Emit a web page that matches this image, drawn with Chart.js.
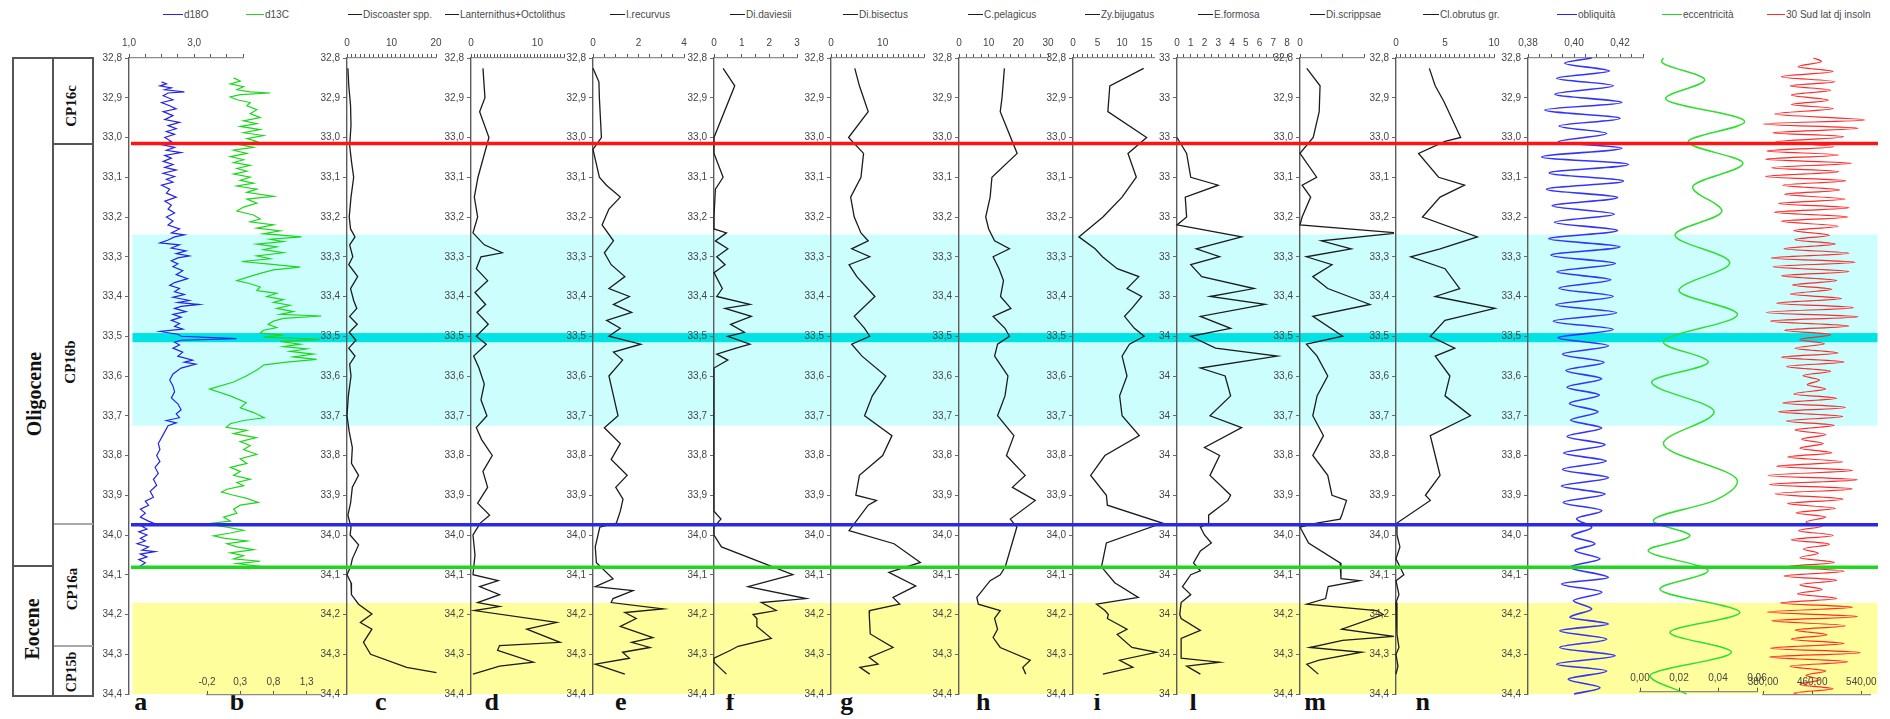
<!DOCTYPE html>
<html lang="it">
<head>
<meta charset="utf-8">
<title>Nannofossili, isotopi e cicli orbitali 32,8–34,4 Ma</title>
<script src="https://cdn.jsdelivr.net/npm/chart.js@4.4.1/dist/chart.umd.min.js"></script>
<style>
  html, body { margin: 0; padding: 0; background: #fff; }
  #page { position: relative; width: 1890px; height: 719px; overflow: hidden; background: #fff; }
  #page canvas { position: absolute; top: 0; }
  .leg { position: absolute; top: 9px; height: 14px; line-height: 14px; font: 10px "Liberation Sans", Arial, sans-serif; color: #4a4a4a; white-space: nowrap; }
  .leg .sw { display: inline-block; vertical-align: middle; height: 0; border-top: 1.5px solid #333; margin-right: 1px; position: relative; top: -1px; }
  .rule { position: absolute; }
  .box { position: absolute; box-sizing: border-box; border: 2px solid #555; }
  .rot { position: absolute; transform: translate(-50%, -50%) rotate(-90deg); font-family: "Liberation Serif", "Times New Roman", serif; font-weight: bold; color: #111; white-space: nowrap; line-height: 1; }
  .letter { position: absolute; top: 689px; transform: translateX(-50%); font: bold 26px/1 "Liberation Serif", "Times New Roman", serif; color: #111; }
</style>
</head>
<body>
<div id="page">
  <!-- biostratigraphic column -->
  <div class="box" style="left:11.5px;top:57px;width:82.5px;height:640px;"></div>
  <div class="rule" style="left:52.3px;top:58px;width:2px;height:638px;background:#555;"></div>
  <div class="rule" style="left:12px;top:565px;width:41px;height:2px;background:#555;"></div>
  <div class="rule" style="left:54px;top:143px;width:39px;height:2px;background:#555;"></div>
  <div class="rule" style="left:54px;top:523.3px;width:39px;height:2px;background:#a8a8a8;"></div>
  <div class="rule" style="left:54px;top:644.7px;width:39px;height:2px;background:#a8a8a8;"></div>
  <div class="rot" style="left:34px;top:394px;font-size:20px;">Oligocene</div>
  <div class="rot" style="left:32px;top:629px;font-size:20px;">Eocene</div>
  <div class="rot" style="left:71px;top:106px;font-size:15px;">CP16c</div>
  <div class="rot" style="left:70px;top:362px;font-size:15px;">CP16b</div>
  <div class="rot" style="left:72px;top:589px;font-size:15px;">CP16a</div>
  <div class="rot" style="left:72px;top:672px;font-size:14px;">CP15b</div>
</div>
<script>
// ---------------------------------------------------------------------------
// Age axis (Ma) shared by every panel
// ---------------------------------------------------------------------------
const DEPTH_MIN = 32.8, DEPTH_MAX = 34.4;
const DEPTH_TICKS = [32.8, 32.9, 33.0, 33.1, 33.2, 33.3, 33.4, 33.5, 33.6, 33.7, 33.8, 33.9, 34.0, 34.1, 34.2, 34.3, 34.4];

// Shaded intervals and boundary lines (Ma)
const BAND_FROM = [33.244, 33.492, 34.171];
const BAND_TO   = [33.725, 33.515, 34.400];
const BOUNDARY_AGE = [33.015, 33.974, 34.081];

// ---------------------------------------------------------------------------
// a — d18O
// ---------------------------------------------------------------------------
const D18O_AGE = [32.860,32.865,32.870,32.875,32.880,32.885,32.888,32.895,32.905,32.912,32.920,32.928,32.935,32.945,32.955,32.962,32.970,32.978,32.985,32.992,33.000,33.010,33.018,33.025,33.032,33.038,33.045,33.052,33.060,33.068,33.075,33.082,33.090,33.098,33.105,33.112,33.120,33.130,33.140,33.150,33.160,33.170,33.180,33.190,33.200,33.210,33.220,33.230,33.240,33.245,33.250,33.258,33.265,33.270,33.278,33.285,33.292,33.298,33.303,33.310,33.318,33.325,33.335,33.345,33.355,33.365,33.372,33.380,33.388,33.395,33.402,33.410,33.415,33.420,33.425,33.430,33.438,33.445,33.452,33.460,33.468,33.475,33.482,33.488,33.495,33.500,33.506,33.510,33.515,33.522,33.530,33.540,33.550,33.560,33.565,33.570,33.580,33.595,33.610,33.625,33.640,33.655,33.670,33.685,33.695,33.705,33.712,33.718,33.725,33.740,33.755,33.770,33.785,33.800,33.815,33.830,33.845,33.860,33.875,33.890,33.905,33.915,33.925,33.935,33.945,33.955,33.965,33.972,33.978,33.985,33.992,34.000,34.008,34.015,34.022,34.030,34.038,34.042,34.048,34.055,34.062,34.070,34.078,34.085];
const D18O_VAL = [2.00,2.15,1.95,2.30,2.10,2.70,2.20,2.05,2.35,2.00,2.25,2.45,2.05,2.35,2.10,2.55,2.20,2.45,2.15,2.40,2.10,2.30,2.00,2.40,2.15,2.60,2.10,2.30,2.05,2.35,2.10,2.45,2.05,2.40,2.15,2.35,2.00,2.25,2.15,2.45,2.10,2.30,2.20,2.40,2.15,2.35,2.20,2.55,2.30,2.70,2.40,2.20,1.95,2.55,2.30,2.75,2.45,2.85,2.50,2.30,2.50,2.35,2.65,2.45,2.80,2.40,2.25,2.55,2.40,2.70,2.35,2.85,2.50,3.15,2.60,2.40,2.75,2.35,2.60,2.30,2.55,2.40,2.65,1.95,2.50,2.60,4.30,2.60,2.40,2.55,2.35,2.65,2.50,2.95,2.70,3.05,2.60,2.35,2.25,2.35,2.40,2.30,2.50,2.60,2.45,2.55,2.15,2.45,2.20,2.10,2.00,1.90,1.95,1.85,1.95,1.80,1.90,1.75,1.85,1.65,1.75,1.50,1.60,1.35,1.50,1.35,1.60,1.80,1.40,1.55,1.30,1.55,1.35,1.50,1.25,1.60,1.40,1.80,1.35,1.55,1.30,1.50,1.35,1.45];

// b — d13C
const D13C_AGE = [32.850,32.858,32.865,32.872,32.880,32.885,32.888,32.892,32.898,32.905,32.912,32.920,32.930,32.940,32.950,32.958,32.965,32.972,32.980,32.988,32.995,33.003,33.010,33.018,33.025,33.032,33.040,33.048,33.056,33.063,33.070,33.078,33.085,33.092,33.100,33.108,33.115,33.122,33.130,33.138,33.148,33.155,33.165,33.175,33.185,33.195,33.205,33.212,33.220,33.228,33.235,33.242,33.250,33.256,33.262,33.268,33.275,33.282,33.290,33.298,33.305,33.312,33.318,33.326,33.333,33.342,33.352,33.360,33.368,33.376,33.385,33.392,33.400,33.408,33.415,33.422,33.430,33.438,33.445,33.449,33.455,33.462,33.470,33.478,33.485,33.492,33.497,33.502,33.508,33.513,33.520,33.526,33.532,33.538,33.545,33.552,33.558,33.565,33.572,33.585,33.600,33.615,33.633,33.650,33.667,33.680,33.692,33.705,33.712,33.720,33.729,33.737,33.745,33.755,33.765,33.775,33.785,33.797,33.808,33.820,33.830,33.840,33.850,33.860,33.868,33.876,33.885,33.892,33.900,33.908,33.918,33.925,33.935,33.945,33.955,33.965,33.972,33.980,33.988,33.995,34.002,34.008,34.015,34.022,34.030,34.037,34.045,34.052,34.060,34.066,34.072,34.078,34.083,34.085];
const D13C_VAL = [0.20,0.30,0.15,0.35,0.25,0.45,0.75,0.30,0.15,0.25,0.45,0.40,0.55,0.45,0.60,0.35,0.55,0.30,0.60,0.35,0.65,0.40,0.55,0.30,0.50,0.20,0.40,0.15,0.35,0.20,0.45,0.25,0.40,0.20,0.45,0.30,0.50,0.25,0.55,0.40,0.80,0.40,0.55,0.35,0.25,0.50,0.60,0.45,0.80,0.55,0.90,0.65,1.22,0.75,0.95,0.55,0.85,0.65,0.95,0.55,0.75,0.32,0.70,1.20,0.80,0.60,0.40,0.25,0.45,0.60,0.55,0.85,0.70,0.95,0.80,1.05,0.85,1.10,0.90,1.52,0.95,0.80,0.72,0.85,0.65,0.60,0.95,0.65,1.50,0.90,1.20,0.95,1.30,1.05,1.40,1.10,1.45,1.00,0.66,0.55,0.39,0.20,-0.16,0.15,0.39,0.30,0.50,0.66,0.35,0.15,0.09,0.40,0.20,0.54,0.30,0.45,0.35,0.55,0.30,0.40,0.15,0.30,0.20,0.45,0.25,0.35,0.10,0.02,0.20,0.40,0.57,0.30,0.20,0.25,0.05,0.15,-0.21,0.10,0.35,0.15,-0.10,0.05,0.40,0.10,0.25,0.50,0.15,0.35,0.20,0.60,0.25,0.55,0.35,0.45];

// c — Discoaster spp.
const DISCO_AGE = [32.826,32.870,32.920,32.970,33.020,33.060,33.100,33.150,33.200,33.230,33.250,33.270,33.300,33.320,33.350,33.380,33.410,33.430,33.450,33.470,33.490,33.510,33.530,33.550,33.570,33.600,33.650,33.700,33.740,33.780,33.820,33.850,33.880,33.920,33.950,33.980,34.000,34.025,34.060,34.080,34.100,34.120,34.150,34.174,34.199,34.220,34.237,34.270,34.300,34.333,34.346];
const DISCO_VAL = [0.2,0.4,0.8,0.9,0.6,1.0,1.5,0.9,0.5,0.8,1.8,0.6,1.3,0.4,2.4,0.8,1.5,2.2,0.6,2.3,0.5,2.0,0.4,1.8,0.6,0.9,0.3,0.0,0.5,1.2,1.0,2.6,1.2,0.8,0.2,0.9,0.7,2.6,1.2,0.8,0.0,0.9,1.0,2.6,5.6,3.0,5.6,3.7,5.3,13.4,20.1];

// d — Lanternithus + Octolithus
const LANT_AGE = [32.826,32.900,32.935,33.000,33.100,33.150,33.200,33.240,33.270,33.290,33.300,33.330,33.360,33.390,33.420,33.440,33.470,33.500,33.520,33.550,33.580,33.620,33.660,33.700,33.730,33.760,33.800,33.840,33.880,33.920,33.950,33.970,34.000,34.050,34.100,34.115,34.130,34.150,34.170,34.180,34.190,34.220,34.237,34.270,34.278,34.290,34.320,34.330,34.350];
const LANT_VAL = [1.8,2.1,1.3,2.7,1.05,0.5,1.0,0.3,2.0,4.7,1.5,0.8,2.5,0.6,2.2,0.9,2.6,0.8,2.3,0.4,1.2,2.0,1.5,2.4,0.8,1.6,3.2,1.8,2.5,1.0,2.8,1.4,0.3,0.6,0.3,4.1,1.3,4.3,1.0,4.3,0.5,12.9,8.4,13.4,4.3,4.0,9.4,4.3,0.3];

// e — I. recurvus
const RECU_AGE = [32.826,32.860,32.900,33.000,33.030,33.100,33.120,33.150,33.180,33.220,33.260,33.290,33.320,33.350,33.380,33.400,33.420,33.440,33.460,33.480,33.500,33.520,33.540,33.560,33.600,33.650,33.700,33.730,33.770,33.810,33.850,33.880,33.910,33.940,33.970,33.980,34.030,34.070,34.110,34.130,34.140,34.160,34.170,34.186,34.195,34.210,34.230,34.258,34.270,34.283,34.295,34.310,34.325,34.350];
const RECU_VAL = [0.00,0.26,0.28,0.37,0.00,0.28,0.59,1.20,0.70,0.40,0.90,0.50,0.80,1.40,0.70,1.60,0.90,1.70,0.60,1.20,0.70,2.10,0.90,1.30,0.70,0.90,1.10,0.50,1.20,0.80,1.50,1.00,1.32,1.20,1.03,0.30,0.10,0.15,0.88,0.10,1.76,0.88,0.80,3.08,1.40,1.90,1.20,2.63,1.70,2.50,1.30,1.60,0.10,1.40];

// f — Di. daviesii
const DAVI_AGE = [32.826,32.870,33.000,33.040,33.100,33.130,33.200,33.230,33.240,33.260,33.280,33.300,33.320,33.340,33.380,33.400,33.420,33.430,33.450,33.470,33.490,33.500,33.520,33.530,33.545,33.560,33.580,33.940,33.960,33.980,34.000,34.030,34.100,34.130,34.160,34.170,34.190,34.200,34.210,34.230,34.260,34.280,34.290,34.310,34.320,34.350];
const DAVI_VAL = [0.33,0.75,0.00,0.00,0.33,0.05,0.00,0.00,0.45,0.05,0.50,0.10,0.40,0.00,0.30,0.10,1.30,0.40,1.35,0.60,1.10,0.50,1.30,0.80,0.10,0.50,0.00,0.00,0.25,0.00,0.00,0.27,2.85,1.23,3.33,1.71,2.25,1.41,1.55,1.55,2.07,0.87,0.60,0.00,0.00,0.45];

// g — Di. bisectus
const BISE_AGE = [32.826,32.870,32.935,33.000,33.040,33.100,33.150,33.200,33.240,33.260,33.280,33.300,33.320,33.350,33.400,33.450,33.480,33.500,33.520,33.550,33.600,33.650,33.700,33.750,33.800,33.850,33.900,33.913,33.925,33.989,34.022,34.069,34.094,34.128,34.157,34.174,34.190,34.200,34.249,34.283,34.308,34.325,34.333,34.350];
const BISE_VAL = [4.6,5.5,7.2,3.4,6.3,5.8,3.8,4.5,5.8,7.2,4.0,7.5,3.5,5.0,8.5,4.5,6.5,7.5,4.0,6.0,10.6,8.0,6.5,11.8,10.0,5.5,4.8,8.8,7.2,3.5,12.2,17.3,11.2,16.4,12.0,13.3,7.5,7.4,7.6,12.0,7.4,9.1,5.6,7.5];

// h — C. pelagicus
const PELA_AGE = [32.826,32.900,32.935,33.040,33.100,33.150,33.200,33.230,33.260,33.280,33.300,33.330,33.360,33.400,33.430,33.450,33.480,33.500,33.520,33.550,33.600,33.650,33.700,33.750,33.800,33.850,33.880,33.913,33.960,33.980,34.080,34.100,34.115,34.157,34.174,34.190,34.210,34.237,34.258,34.283,34.315,34.333,34.350];
const PELA_VAL = [15.3,14.5,13.9,19.6,11.1,10.5,9.0,10.0,12.0,17.0,11.5,13.5,15.0,14.0,17.5,11.5,15.5,17.0,13.0,12.0,16.5,15.5,13.0,18.5,16.0,22.3,18.0,25.7,17.3,19.5,15.6,13.9,10.5,6.0,6.5,13.9,12.0,13.0,11.5,13.9,24.0,21.5,22.5];

// i — Zy. bijugatus
const BIJU_AGE = [32.826,32.870,32.935,33.000,33.040,33.100,33.150,33.200,33.250,33.280,33.300,33.330,33.350,33.380,33.400,33.430,33.450,33.480,33.500,33.520,33.550,33.600,33.650,33.700,33.750,33.800,33.850,33.900,33.925,33.970,34.020,34.080,34.120,34.157,34.174,34.190,34.200,34.210,34.237,34.250,34.283,34.295,34.315,34.333,34.350];
const BIJU_VAL = [14.4,7.5,7.1,15.0,11.2,12.9,10.0,6.1,1.2,4.5,6.0,9.0,13.4,11.0,14.0,12.0,10.5,12.5,14.5,11.5,10.0,11.0,9.5,10.0,13.5,6.5,3.6,6.8,7.0,18.2,6.8,5.8,8.5,13.3,4.8,6.5,7.2,7.0,11.0,9.0,12.0,17.0,9.5,12.2,6.1];

// l — E. formosa
const FORM_AGE = [33.000,33.040,33.100,33.120,33.150,33.200,33.220,33.250,33.280,33.300,33.320,33.350,33.380,33.400,33.420,33.450,33.480,33.500,33.530,33.550,33.580,33.600,33.650,33.700,33.730,33.780,33.800,33.850,33.900,33.913,33.950,33.970,33.980,34.000,34.020,34.040,34.070,34.090,34.100,34.130,34.150,34.170,34.200,34.210,34.240,34.260,34.310,34.320,34.330,34.350];
const FORM_VAL = [0.0,0.7,1.0,3.0,0.6,0.7,0.0,4.7,1.4,3.1,1.0,1.8,5.6,2.4,6.4,1.7,3.9,1.0,2.8,7.3,1.7,3.5,3.9,2.4,4.7,2.0,3.1,2.4,3.9,3.7,2.3,2.3,1.7,2.0,2.5,1.7,1.2,1.7,1.0,0.4,1.0,0.3,0.2,0.3,1.7,0.3,0.3,3.1,0.7,1.7];

// m — Di. scrippsae
const SCRI_AGE = [32.826,32.870,32.935,33.000,33.040,33.100,33.120,33.150,33.200,33.220,33.240,33.260,33.280,33.300,33.320,33.350,33.380,33.420,33.450,33.500,33.520,33.550,33.600,33.650,33.700,33.750,33.800,33.850,33.900,33.913,33.950,33.960,33.970,33.980,34.020,34.070,34.080,34.110,34.115,34.130,34.160,34.174,34.190,34.200,34.237,34.255,34.265,34.283,34.295,34.315,34.325,34.350];
const SCRI_VAL = [1.6,4.7,4.5,3.1,0.0,3.9,0.5,2.5,0.5,0.0,23.0,5.0,12.0,1.5,7.5,3.0,6.5,16.4,3.0,10.0,1.5,4.0,6.5,4.0,3.0,5.5,3.0,6.5,7.5,10.9,9.8,9.4,3.9,0.0,2.0,9.4,9.6,9.6,14.0,6.6,6.0,1.6,18.0,19.5,9.8,21.9,10.0,2.3,14.5,4.5,1.6,4.3];

// n — Cl. obrutus gr.
const OBRU_AGE = [32.826,32.870,32.910,33.000,33.010,33.040,33.100,33.120,33.150,33.200,33.250,33.280,33.300,33.330,33.380,33.400,33.430,33.460,33.500,33.530,33.550,33.600,33.650,33.700,33.750,33.800,33.850,33.900,33.913,33.970,34.000,34.030,34.060,34.100,34.115,34.150,34.170,34.250,34.283,34.300,34.330,34.350];
const OBRU_VAL = [3.4,4.0,4.9,6.6,5.0,2.3,4.35,7.0,4.5,2.7,8.3,4.5,1.5,5.0,6.5,4.0,10.1,5.0,3.5,6.0,4.0,5.5,5.0,7.6,3.5,4.0,4.5,3.0,3.5,0.1,0.1,0.4,0.0,0.8,0.0,0.3,0.0,0.1,0.3,0.0,0.2,0.0];

// Obliquity (rad), turning points
const OBLI_AGE = [32.800,32.813,32.833,32.851,32.870,32.891,32.912,32.931,32.952,32.971,32.990,33.011,33.027,33.049,33.068,33.089,33.110,33.130,33.151,33.172,33.193,33.213,33.234,33.255,33.275,33.296,33.317,33.338,33.358,33.379,33.400,33.421,33.441,33.462,33.483,33.504,33.524,33.545,33.566,33.586,33.607,33.628,33.648,33.669,33.690,33.711,33.731,33.752,33.773,33.794,33.814,33.835,33.856,33.877,33.897,33.918,33.939,33.959,33.981,34.002,34.022,34.039,34.060,34.081,34.107,34.123,34.144,34.165,34.186,34.207,34.224,34.241,34.262,34.283,34.304,34.325,34.342,34.363,34.384,34.400];
const OBLI_VAL = [0.4077,0.3960,0.4154,0.3924,0.4171,0.3917,0.4208,0.3873,0.4200,0.3935,0.4142,0.3931,0.4208,0.3859,0.4237,0.3892,0.4215,0.3880,0.4190,0.3905,0.4175,0.3915,0.4190,0.3890,0.4200,0.3900,0.4180,0.3925,0.4160,0.3935,0.4170,0.3920,0.4185,0.3910,0.4170,0.3930,0.4150,0.3950,0.4130,0.3965,0.4120,0.3970,0.4110,0.3980,0.4105,0.3985,0.4120,0.3970,0.4135,0.3955,0.4140,0.3950,0.4150,0.3945,0.4135,0.3953,0.4121,0.4011,0.4077,0.3990,0.4091,0.4004,0.4113,0.3982,0.4149,0.3946,0.4121,0.3997,0.4077,0.3982,0.4149,0.3938,0.4142,0.3938,0.4179,0.3924,0.4142,0.3975,0.4113,0.4000];

// Eccentricity, turning points
const ECC_AGE = [32.800,32.808,32.855,32.902,32.960,33.011,33.065,33.125,33.185,33.245,33.315,33.385,33.445,33.515,33.565,33.615,33.690,33.770,33.865,33.913,33.964,34.002,34.039,34.090,34.136,34.195,34.245,34.295,34.354,34.400];
const ECC_VAL = [0.0120,0.0111,0.0332,0.0131,0.0537,0.0247,0.0528,0.0270,0.0420,0.0180,0.0460,0.0200,0.0500,0.0120,0.0350,0.0060,0.0380,0.0120,0.0500,0.0384,0.0068,0.0256,0.0042,0.0349,0.0102,0.0512,0.0153,0.0469,0.0051,0.0239];

// Daily insolation at 30°S (W/m2), turning points
const INSO_AGE = [32.800,32.809,32.822,32.834,32.847,32.860,32.870,32.881,32.893,32.906,32.917,32.927,32.941,32.956,32.966,32.977,32.988,32.998,33.011,33.023,33.034,33.044,33.055,33.065,33.076,33.086,33.098,33.109,33.120,33.132,33.143,33.155,33.166,33.177,33.188,33.200,33.211,33.223,33.234,33.246,33.257,33.268,33.280,33.291,33.303,33.314,33.325,33.337,33.348,33.360,33.371,33.382,33.394,33.405,33.417,33.428,33.440,33.451,33.462,33.474,33.485,33.496,33.508,33.519,33.530,33.542,33.553,33.565,33.576,33.588,33.599,33.610,33.622,33.633,33.645,33.656,33.668,33.679,33.690,33.702,33.713,33.724,33.736,33.747,33.759,33.770,33.782,33.793,33.804,33.816,33.827,33.838,33.850,33.861,33.873,33.884,33.896,33.910,33.921,33.933,33.944,33.955,33.967,33.978,33.989,34.001,34.012,34.023,34.035,34.046,34.057,34.069,34.080,34.091,34.103,34.114,34.125,34.137,34.148,34.160,34.171,34.182,34.194,34.205,34.216,34.228,34.239,34.251,34.262,34.273,34.285,34.296,34.307,34.319,34.330,34.342,34.353,34.364,34.376,34.387,34.398,34.400];
const INSO_VAL = [462,475,437,494,410,497,424,490,426,486,426,494,399,546,380,535,396,511,401,495,386,503,384,524,394,503,384,515,412,505,415,514,405,520,398,518,410,502,430,488,432,498,414,520,393,530,396,520,410,500,428,492,424,508,402,527,385,535,392,520,415,490,440,480,432,502,410,512,418,490,445,472,452,482,430,500,412,514,405,510,418,496,432,482,443,478,440,492,420,510,402,526,388,534,390,525,400,510,420,498,434,482,450,476,438,494,426,488,446,470,440,496,418,512,414,500,440,476,436,500,408,526,386,534,394,514,432,484,426,512,392,538,390,518,424,482,450,472,440,494,430,436];

// ---------------------------------------------------------------------------
// Legend row and panel letters
// ---------------------------------------------------------------------------
const LEGEND_LABELS = ['d18O','d13C','Discoaster spp.','Lanternithus+Octolithus','I.recurvus','Di.daviesii','Di.bisectus','C.pelagicus','Zy.bijugatus','E.formosa','Di.scrippsae','Cl.obrutus gr.','obliquità','eccentricità','30 Sud lat dj insoln'];
const PANEL_LETTERS = ['a','b','c','d','e','f','g','h','i','l','m','n'];

// ---------------------------------------------------------------------------
// Layout and styles
// ---------------------------------------------------------------------------
const PAGE_W = 1890, PAGE_H = 719;
const PLOT_TOP = 58, PLOT_BOTTOM = 694;
const YW = 60, XH = 30, PADR = 30;
const BLUE = '#2424e8', GREEN = '#1fd61f', RED = '#ff2a2a', INK = '#1c1c1c';
const LABEL = '#454545';
const TICK_FONT = { family: '"Liberation Sans", Arial, sans-serif', size: 10 };
const LEGEND_LAYOUT = [[163,20,BLUE],[246,18,GREEN],[348,14,INK],[445,14,INK],[610,15,INK],[730,15,INK],[843,15,INK],[968,15,INK],[1085,15,INK],[1198,15,INK],[1310,15,INK],[1423,16,INK],[1557,20,BLUE],[1662,20,GREEN],[1767,18,RED]];
const LETTER_X = [140.7,237,380.7,491.7,620.7,730,846.7,983.3,1097,1193,1315,1422.7];
const BAND_COLORS = ['#cdfefe', '#00e2e4', '#fefe9c'];
const BOUNDARY_COLORS = ['#ff1414', '#2a2ae6', '#1ed81e'];

Chart.defaults.font.family = TICK_FONT.family;
const page = document.getElementById('page');

LEGEND_LABELS.forEach((txt, i) => {
  const [x, w, col] = LEGEND_LAYOUT[i];
  const d = document.createElement('div');
  d.className = 'leg';
  d.style.left = x + 'px';
  const sw = document.createElement('span');
  sw.className = 'sw';
  sw.style.width = w + 'px';
  sw.style.borderTopColor = col;
  d.appendChild(sw);
  d.appendChild(document.createTextNode(txt));
  page.appendChild(d);
});
PANEL_LETTERS.forEach((t, i) => {
  const d = document.createElement('div');
  d.className = 'letter';
  d.style.left = LETTER_X[i] + 'px';
  d.textContent = t;
  page.appendChild(d);
});

const comma = (v, n) => Number(v).toFixed(n).replace('.', ',');
const series = (ages, vals) => ages.map((a, i) => ({ x: vals[i], y: a }));
const steps = (from, to, step) => { const out = []; for (let k = 0; from + k * step <= to + 1e-9; k++) out.push(+(from + k * step).toFixed(6)); return out; };

function addCanvas(left, width) {
  const c = document.createElement('canvas');
  c.width = Math.round(width); c.height = PAGE_H;
  c.style.left = left + 'px';
  c.style.width = Math.round(width) + 'px';
  c.style.height = PAGE_H + 'px';
  page.appendChild(c);
  return c;
}

function depthAxis(show, fmt) {
  return {
    type: 'linear', position: 'left', reverse: true, min: DEPTH_MIN, max: DEPTH_MAX, display: show,
    afterBuildTicks: s => { s.ticks = DEPTH_TICKS.map(v => ({ value: v })); },
    afterFit: s => { s.width = show ? YW : 0; },
    grid: { drawOnChartArea: false, drawTicks: true, tickLength: 4, color: '#6a6a6a' },
    border: { display: true, color: '#5c5c5c', width: 1.4 },
    ticks: { padding: 3, color: LABEL, font: TICK_FONT, autoSkip: false, callback: v => fmt(v) }
  };
}

function valueAxis(o) {
  const labelled = new Set((o.labels || []).map(v => Number(v).toFixed(5)));
  return {
    type: 'linear', position: 'top', min: o.min, max: o.max, display: !!o.show,
    afterBuildTicks: s => { s.ticks = (o.ticks || [o.min, o.max]).map(v => ({ value: v })); },
    afterFit: s => { s.height = o.show ? XH : 0; },
    grid: { drawOnChartArea: false, drawTicks: true, tickLength: 4, color: '#555' },
    border: { display: true, color: '#8a8a8a', width: 1.3 },
    ticks: { padding: o.pad || 5, color: LABEL, font: TICK_FONT, autoSkip: false, maxRotation: 0, minRotation: 0,
      callback: v => labelled.has(Number(v).toFixed(5)) ? o.fmt(v) : '' }
  };
}

const baseOptions = () => ({
  responsive: false, animation: false, devicePixelRatio: 1, events: [],
  plugins: { legend: { display: false }, tooltip: { enabled: false } },
  elements: { point: { radius: 0 } }
});

// A panel: curve(s) on a value axis (top, optional) against the age axis (left, optional)
function panel(p) {
  const canvas = addCanvas(p.L - YW, YW + (p.R - p.L) + PADR);
  const opts = baseOptions();
  opts.indexAxis = 'y';
  opts.layout = { autoPadding: false, padding: { left: p.yAxis ? 0 : YW, right: PADR, top: PLOT_TOP - (p.x.show ? XH : 0), bottom: PAGE_H - PLOT_BOTTOM } };
  opts.scales = { x: valueAxis(p.x), y: depthAxis(!!p.yAxis, p.yFmt || (v => comma(v, 1))) };
  return new Chart(canvas, { type: 'line', data: { datasets: p.datasets || [] }, options: opts });
}

// A stand-alone value axis whose line sits at pixel row axisY, labels above it
function bottomAxis(p) {
  const canvas = addCanvas(p.L - YW, YW + (p.R - p.L) + PADR);
  const opts = baseOptions();
  opts.layout = { autoPadding: false, padding: { left: YW, right: PADR, top: p.axisY - XH, bottom: PAGE_H - p.axisY - 6 } };
  opts.scales = { x: valueAxis(Object.assign({ show: true, pad: 3 }, p.x)), y: { type: 'linear', display: false, min: 0, max: 1 } };
  return new Chart(canvas, { type: 'line', data: { datasets: [] }, options: opts });
}

function curve(ages, vals, color, width, smooth) {
  return {
    data: series(ages, vals), borderColor: color, borderWidth: width, fill: false, clip: false,
    tension: 0, cubicInterpolationMode: smooth ? 'monotone' : 'default', pointRadius: 0
  };
}

// ---------------------------------------------------------------------------
// Background: shaded intervals
// ---------------------------------------------------------------------------
const bandPlugin = {
  id: 'ageBands',
  beforeDatasetsDraw(chart) {
    const { ctx, chartArea: a, scales: { y } } = chart;
    ctx.save();
    BAND_FROM.forEach((from, i) => {
      const y0 = y.getPixelForValue(from), y1 = y.getPixelForValue(BAND_TO[i]);
      ctx.fillStyle = BAND_COLORS[i];
      ctx.fillRect(a.left, y0, a.right - a.left, y1 - y0);
    });
    ctx.restore();
  }
};
(function () {
  const L = 132.5, R = 1877.5;
  const canvas = addCanvas(0, PAGE_W);
  const opts = baseOptions();
  opts.layout = { autoPadding: false, padding: { left: L, right: PAGE_W - R, top: PLOT_TOP, bottom: PAGE_H - PLOT_BOTTOM } };
  opts.scales = { x: { type: 'linear', display: false, min: 0, max: 1 }, y: { type: 'linear', display: false, reverse: true, min: DEPTH_MIN, max: DEPTH_MAX } };
  new Chart(canvas, { type: 'line', data: { datasets: [] }, options: opts, plugins: [bandPlugin] });
})();

// ---------------------------------------------------------------------------
// Panels
// ---------------------------------------------------------------------------
// a — d18O
panel({ L: 128.7, R: 242.3, yAxis: true,
  x: { show: true, min: 1.0, max: 4.5, ticks: steps(1.0, 4.5, 0.5), labels: [1.0, 3.0], fmt: v => comma(v, 1) },
  datasets: [curve(D18O_AGE, D18O_VAL, BLUE, 1.2, false)] });
// b — d13C (axis drawn at the foot of the panel)
panel({ L: 207.3, R: 320.7, yAxis: false,
  x: { show: false, min: -0.2, max: 1.5 },
  datasets: [curve(D13C_AGE, D13C_VAL, GREEN, 1.2, false)] });
bottomAxis({ L: 207.3, R: 320.7, axisY: 695,
  x: { min: -0.2, max: 1.5, ticks: [-0.2, 0.3, 0.8, 1.3], labels: [-0.2, 0.3, 0.8, 1.3], fmt: v => comma(v, 1) } });
// c — Discoaster spp.
panel({ L: 346.7, R: 436.1, yAxis: true,
  x: { show: true, min: 0, max: 20, ticks: steps(0, 20, 1), labels: [0, 10, 20], fmt: v => comma(v, 0) },
  datasets: [curve(DISCO_AGE, DISCO_VAL, INK, 1.3, false)] });
// d — Lanternithus + Octolithus
panel({ L: 471.3, R: 564.1, yAxis: true,
  x: { show: true, min: 0, max: 14, ticks: steps(0, 14, 0.5), labels: [0, 10], fmt: v => comma(v, 0) },
  datasets: [curve(LANT_AGE, LANT_VAL, INK, 1.3, false)] });
// e — I. recurvus
panel({ L: 593.3, R: 684.3, yAxis: true,
  x: { show: true, min: 0, max: 4, ticks: steps(0, 4, 0.5), labels: [0, 2, 4], fmt: v => comma(v, 0) },
  datasets: [curve(RECU_AGE, RECU_VAL, INK, 1.3, false)] });
// f — Di. daviesii
panel({ L: 714.3, R: 797.4, yAxis: true,
  x: { show: true, min: 0, max: 3, ticks: steps(0, 3, 0.5), labels: [0, 1, 2, 3], fmt: v => comma(v, 0) },
  datasets: [curve(DAVI_AGE, DAVI_VAL, INK, 1.3, false)] });
// g — Di. bisectus
panel({ L: 831, R: 924, yAxis: true,
  x: { show: true, min: 0, max: 18, ticks: steps(0, 18, 1), labels: [0, 10], fmt: v => comma(v, 0) },
  datasets: [curve(BISE_AGE, BISE_VAL, INK, 1.3, false)] });
// h — C. pelagicus
panel({ L: 959, R: 1047.5, yAxis: true,
  x: { show: true, min: 0, max: 30, ticks: steps(0, 30, 2.5), labels: [0, 10, 20, 30], fmt: v => comma(v, 0) },
  datasets: [curve(PELA_AGE, PELA_VAL, INK, 1.3, false)] });
// i — Zy. bijugatus
panel({ L: 1073.3, R: 1154.2, yAxis: true,
  x: { show: true, min: 0, max: 16.5, ticks: steps(0, 16, 1), labels: [0, 5, 10, 15], fmt: v => comma(v, 0) },
  datasets: [curve(BIJU_AGE, BIJU_VAL, INK, 1.3, false)] });
// l — E. formosa (age labels rounded to whole Ma)
panel({ L: 1176.7, R: 1287.1, yAxis: true, yFmt: v => String(Math.round(v)),
  x: { show: true, min: 0, max: 8, ticks: steps(0, 8, 0.5), labels: [0, 1, 2, 3, 4, 5, 6, 7, 8], fmt: v => comma(v, 0) },
  datasets: [curve(FORM_AGE, FORM_VAL, INK, 1.3, false)] });
// m — Di. scrippsae
panel({ L: 1300, R: 1364, yAxis: true,
  x: { show: true, min: 0, max: 15, ticks: [0, 5, 10, 15], labels: [0], fmt: v => comma(v, 0) },
  datasets: [curve(SCRI_AGE, SCRI_VAL, INK, 1.3, false)] });
// n — Cl. obrutus gr.
panel({ L: 1395.7, R: 1494, yAxis: true,
  x: { show: true, min: 0, max: 10, ticks: steps(0, 10, 0.5), labels: [0, 5, 10], fmt: v => comma(v, 0) },
  datasets: [curve(OBRU_AGE, OBRU_VAL, INK, 1.3, false)] });
// obliquity
panel({ L: 1528.3, R: 1642.8, yAxis: true,
  x: { show: true, min: 0.38, max: 0.43, ticks: steps(0.38, 0.43, 0.005), labels: [0.38, 0.40, 0.42], fmt: v => comma(v, 2) },
  datasets: [curve(OBLI_AGE, OBLI_VAL, '#3333ff', 1.6, true)] });
// eccentricity
panel({ L: 1640, R: 1757.3, yAxis: false,
  x: { show: false, min: 0, max: 0.06 },
  datasets: [curve(ECC_AGE, ECC_VAL, '#33dd33', 1.5, true)] });
bottomAxis({ L: 1640, R: 1757.3, axisY: 691.7,
  x: { min: 0, max: 0.06, ticks: [0, 0.02, 0.04, 0.06], labels: [0, 0.02, 0.04, 0.06], fmt: v => comma(v, 2) } });
// insolation 30°S
panel({ L: 1763.3, R: 1870, yAxis: false,
  x: { show: false, min: 380, max: 554 },
  datasets: [curve(INSO_AGE, INSO_VAL, RED, 1.2, true)] });
bottomAxis({ L: 1763.3, R: 1870, axisY: 695,
  x: { min: 380, max: 554, ticks: [380, 460, 540], labels: [380, 460, 540], fmt: v => comma(v, 2) } });

// ---------------------------------------------------------------------------
// Boundary lines across all panels
// ---------------------------------------------------------------------------
(function () {
  const L = 131, R = 1878;
  const canvas = addCanvas(0, PAGE_W);
  const opts = baseOptions();
  opts.layout = { autoPadding: false, padding: { left: L, right: PAGE_W - R, top: PLOT_TOP, bottom: PAGE_H - PLOT_BOTTOM } };
  opts.scales = { x: { type: 'linear', display: false, min: 0, max: 1 }, y: { type: 'linear', display: false, reverse: true, min: DEPTH_MIN, max: DEPTH_MAX } };
  const datasets = BOUNDARY_AGE.map((age, i) => ({
    data: [{ x: 0, y: age }, { x: 1, y: age }], borderColor: BOUNDARY_COLORS[i], borderWidth: 3.5, pointRadius: 0, clip: false
  }));
  new Chart(canvas, { type: 'line', data: { datasets }, options: opts });
})();
</script>
</body>
</html>
